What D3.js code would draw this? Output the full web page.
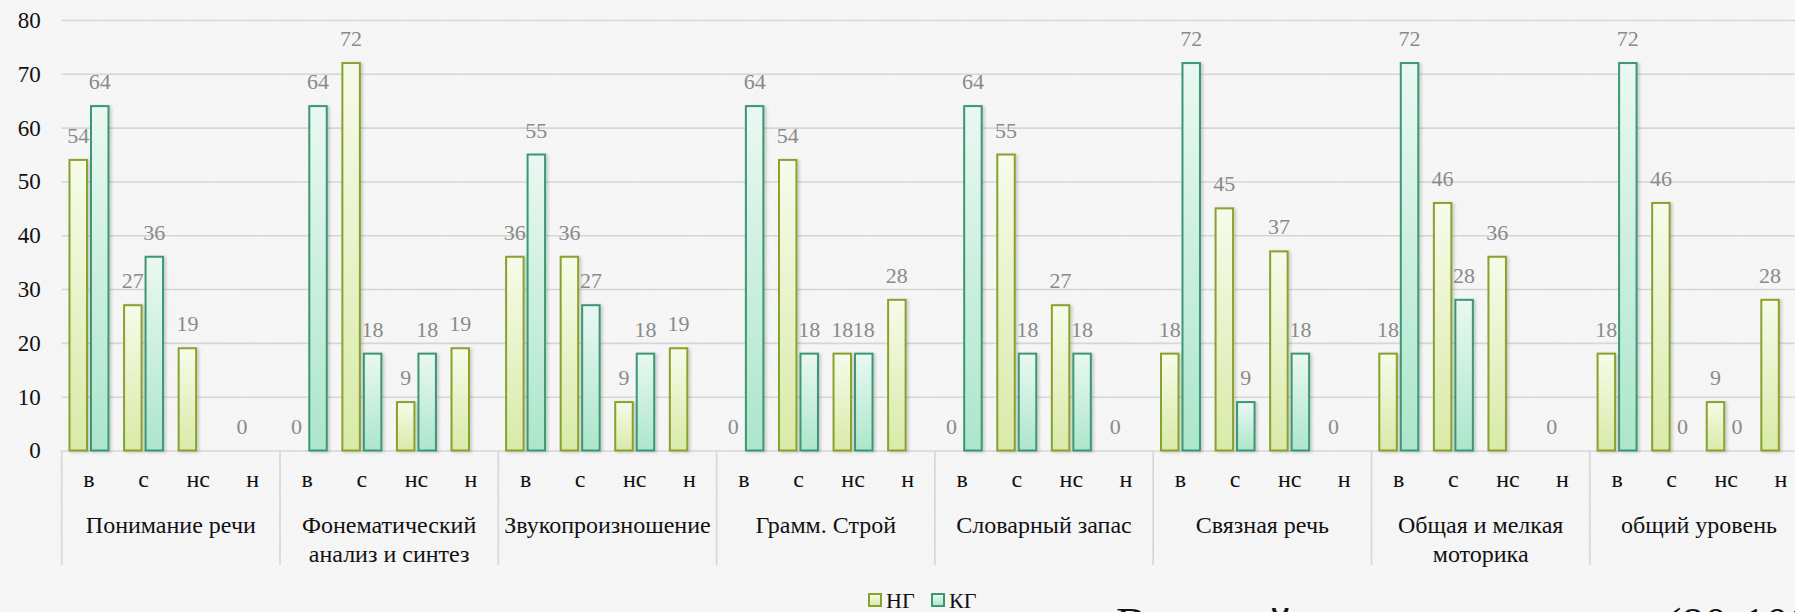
<!DOCTYPE html>
<html>
<head>
<meta charset="utf-8">
<script src="https://cdn.jsdelivr.net/npm/d3@7"></script>
<style>
  html, body { margin: 0; padding: 0; background: #f6f6f6; overflow: hidden; }
  svg { display: block; font-family: "Liberation Serif", "DejaVu Serif", serif; }
</style>
</head>
<body>
<svg id="chart" width="1795" height="612"></svg>
<script>

var groups = ["Понимание речи", "Фонематический анализ и синтез", "Звукопроизношение",
              "Грамм. Строй", "Словарный запас", "Связная речь",
              "Общая и мелкая моторика", "общий уровень"];

var levels = ["в", "с", "нс", "н"];

var series = ["НГ", "КГ"];

var ngValues = [54, 27, 19, 0,   0, 72, 9, 19,   36, 36, 9, 19,   0, 54, 18, 28,
                0, 55, 27, 0,    18, 45, 37, 0,  18, 46, 36, 0,   18, 46, 9, 28];

var kgValues = [64, 36, null, null,  64, 18, 18, null,  55, 27, 18, null,  64, 18, 18, null,
                64, 18, 18, null,    72, 9, 18, null,   72, 28, null, null, 72, 0, 0, null];

var yTicks = [0, 10, 20, 30, 40, 50, 60, 70, 80];

var footText = ["Высокий уровень развития", "(80-100%)"];

var svg = d3.select("#chart"),
    plotLeft = 61.7,
    groupWidth = 218.3,
    plotTop = 20,
    plotBottom = 450.5;

/* Background */
svg.append("rect")
  .attr("width", 1795)
  .attr("height", 612)
  .attr("fill", "#f6f6f6");

var defs = svg.append("defs");

var texture = defs.append("pattern")
  .attr("id", "texture")
  .attr("width", 6)
  .attr("height", 6)
  .attr("patternUnits", "userSpaceOnUse")
  .attr("patternTransform", "rotate(35)");
texture.append("line")
  .attr("x1", 0).attr("y1", 0).attr("x2", 0).attr("y2", 6)
  .attr("stroke", "#ececec")
  .attr("stroke-width", 1.2);

svg.append("rect")
  .attr("width", 1795)
  .attr("height", 612)
  .attr("fill", "url(#texture)")
  .attr("opacity", 0.6);

var palette = {
  "НГ": {top: "#f7fbea", bottom: "#d9eaa8", stroke: "#88a22f"},
  "КГ": {top: "#eaf8f2", bottom: "#ace6cc", stroke: "#3a9873"}
};

series.forEach(function(s, i) {
  var g = defs.append("linearGradient")
    .attr("id", "grad" + i)
    .attr("x1", 0).attr("y1", 0).attr("x2", 0).attr("y2", 1);
  g.append("stop").attr("offset", "0%").attr("stop-color", palette[s].top);
  g.append("stop").attr("offset", "100%").attr("stop-color", palette[s].bottom);
});

var shadow = defs.append("filter")
  .attr("id", "shadow")
  .attr("x", "-30%").attr("y", "-10%")
  .attr("width", "160%").attr("height", "130%");
shadow.append("feDropShadow")
  .attr("dx", 2).attr("dy", 1)
  .attr("stdDeviation", 1.6)
  .attr("flood-color", "#000")
  .attr("flood-opacity", 0.18);

/* Scales */
var x0 = d3.scaleBand()
  .domain(groups)
  .range([plotLeft, plotLeft + groups.length * groupWidth]);

var x1 = d3.scaleBand()
  .domain(levels)
  .range([0, x0.bandwidth()]);

var x2 = d3.scaleBand()
  .domain(series)
  .range([0, x1.bandwidth()])
  .paddingInner(0.186)
  .paddingOuter(0.363);

var y = d3.scaleLinear()
  .domain([0, 80])
  .range([plotBottom, plotTop]);

/* Gridlines and y axis */
var yAxis = svg.append("g")
  .attr("transform", `translate(${plotLeft},0)`)
  .call(d3.axisLeft(y).tickValues(yTicks).tickSize(-(1800 - plotLeft)).tickPadding(21));

yAxis.attr("font-family", "Liberation Serif, serif");
yAxis.select(".domain").remove();
yAxis.selectAll(".tick line")
  .attr("stroke", "#d6d6d6")
  .attr("stroke-width", 1.6);
yAxis.selectAll(".tick text")
  .attr("fill", "#111")
  .style("font-size", "23px");

/* Group separators */
var seps = d3.range(groups.length + 1).map(function(i) {
  return i < groups.length ? x0(groups[i]) : x0.range()[1];
});

svg.selectAll(".sep")
  .data(seps)
  .enter().append("line")
  .attr("class", "sep")
  .attr("x1", (d) => d).attr("x2", (d) => d)
  .attr("y1", plotBottom).attr("y2", 565)
  .attr("stroke", "#d6d6d6")
  .attr("stroke-width", 1.6);

/* Flatten data */
var rows = [];
groups.forEach(function(g, gi) {
  levels.forEach(function(l, li) {
    var k = gi * levels.length + li;
    rows.push({group: g, level: l, series: "НГ", value: ngValues[k], si: 0});
    rows.push({group: g, level: l, series: "КГ", value: kgValues[k], si: 1});
  });
});
rows = rows.filter((d) => d.value !== null);

function barX(d) {
  return x0(d.group) + x1(d.level) + x2(d.series);
}

/* Bars */
svg.selectAll(".bar")
  .data(rows.filter((d) => d.value > 0))
  .enter().append("rect")
  .attr("class", "bar")
  .attr("x", (d) => barX(d))
  .attr("y", (d) => y(d.value))
  .attr("width", x2.bandwidth())
  .attr("height", (d) => y(0) - y(d.value))
  .attr("fill", (d) => `url(#grad${d.si})`)
  .attr("stroke", (d) => palette[d.series].stroke)
  .attr("stroke-width", 2)
  .attr("filter", "url(#shadow)");

/* Value labels */
svg.selectAll(".val")
  .data(rows)
  .enter().append("text")
  .attr("class", "val")
  .attr("x", (d) => barX(d) + x2.bandwidth() / 2)
  .attr("y", (d) => y(d.value) - 17)
  .attr("text-anchor", "middle")
  .attr("fill", "#8a8a8a")
  .style("font-size", "22px")
  .text((d) => d.value);

/* Level labels */
groups.forEach(function(g) {
  svg.selectAll(null)
    .data(levels)
    .enter().append("text")
    .attr("x", (d) => x0(g) + x1(d) + x1.bandwidth() / 2)
    .attr("y", 487)
    .attr("text-anchor", "middle")
    .attr("fill", "#111")
    .style("font-size", "24px")
    .text((d) => d);
});

/* Group labels, wrapped to the group width */
function wrap(text, maxWidth) {
  text.each(function() {
    var t = d3.select(this),
        words = t.text().split(" "),
        line = [],
        cx = t.attr("x"),
        tspan = t.text(null).append("tspan").attr("x", cx).attr("dy", 0);
    words.forEach(function(w) {
      line.push(w);
      tspan.text(line.join(" "));
      if (tspan.node().getComputedTextLength() > maxWidth && line.length > 1) {
        line.pop();
        tspan.text(line.join(" "));
        line = [w];
        tspan = t.append("tspan").attr("x", cx).attr("dy", 29).text(w);
      }
    });
  });
}

svg.selectAll(".grp")
  .data(groups)
  .enter().append("text")
  .attr("class", "grp")
  .attr("x", (d) => x0(d) + x0.bandwidth() / 2)
  .attr("y", 533)
  .attr("text-anchor", "middle")
  .attr("fill", "#111")
  .style("font-size", "24px")
  .text((d) => d)
  .call(wrap, 206);

/* Legend */
var legend = svg.selectAll(".leg")
  .data(series)
  .enter().append("g")
  .attr("class", "leg")
  .attr("transform", (d, i) => `translate(${869 + i * 63},594)`);

legend.append("rect")
  .attr("width", 12)
  .attr("height", 12)
  .attr("fill", (d, i) => `url(#grad${i})`)
  .attr("stroke", (d) => palette[d].stroke)
  .attr("stroke-width", 2);

legend.append("text")
  .attr("x", 17)
  .attr("y", 14)
  .attr("fill", "#111")
  .style("font-size", "22px")
  .text((d) => d);

/* Text of the slide below the chart, mostly cut off */
svg.append("text")
  .attr("x", 1116)
  .attr("y", 640)
  .attr("fill", "#111")
  .style("font-size", "46px")
  .text(footText[0]);

svg.append("text")
  .attr("x", 1666)
  .attr("y", 640)
  .attr("fill", "#111")
  .style("font-size", "46px")
  .text(footText[1]);

</script>
</body>
</html>
